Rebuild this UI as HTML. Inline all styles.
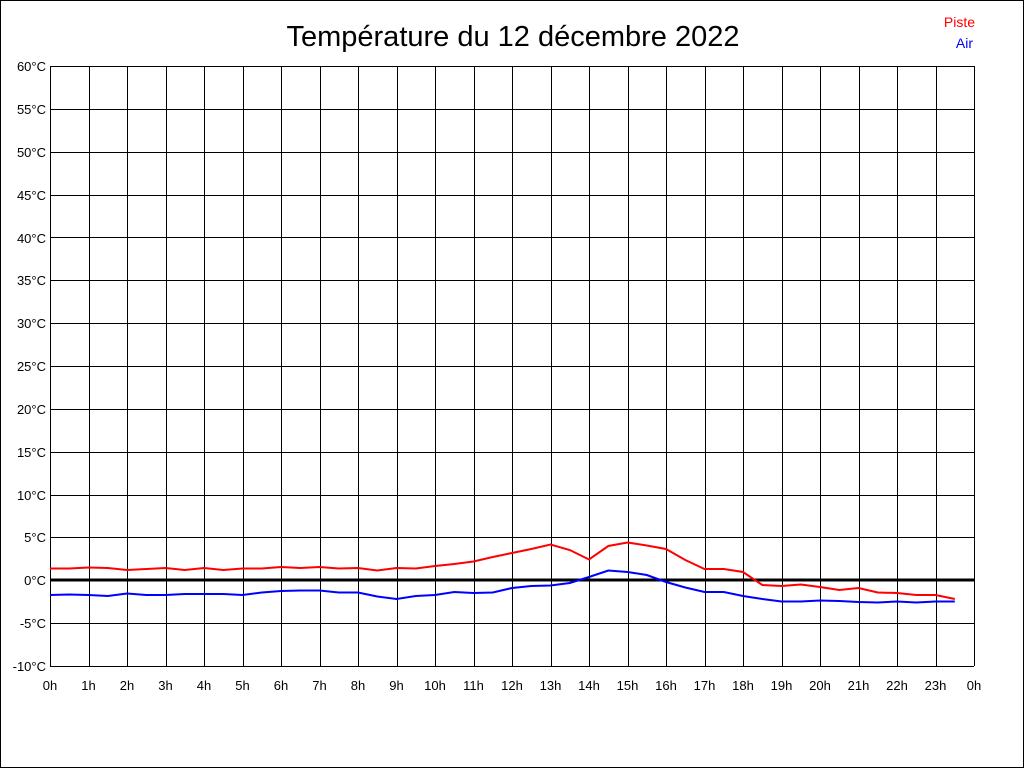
<!DOCTYPE html>
<html><head><meta charset="utf-8"><style>
html,body{margin:0;padding:0;background:#fff}
svg{display:block}
text{font-family:"Liberation Sans",Arial,sans-serif}
</style></head><body>
<svg id="s" width="1024" height="768" xmlns="http://www.w3.org/2000/svg">
<rect x="0.5" y="0.5" width="1023" height="767" fill="#fff" stroke="#000"/>
<text x="513" y="46" font-size="29" text-anchor="middle">Température du 12 décembre 2022</text>
<text x="975" y="27" font-size="14" fill="#f00" text-anchor="end">Piste</text>
<text x="973" y="48" font-size="14" fill="#00f" text-anchor="end">Air</text>
<g id="grid" stroke="#000" stroke-width="1"></g>
<g font-size="13" text-anchor="end">
<text x="46" y="71">60°C</text><text x="46" y="114">55°C</text><text x="46" y="157">50°C</text><text x="46" y="200">45°C</text><text x="46" y="243">40°C</text><text x="46" y="285">35°C</text><text x="46" y="328">30°C</text><text x="46" y="371">25°C</text><text x="46" y="414">20°C</text><text x="46" y="457">15°C</text><text x="46" y="500">10°C</text><text x="46" y="542">5°C</text><text x="46" y="585">0°C</text><text x="46" y="628">-5°C</text><text x="46" y="671">-10°C</text>
</g>
<g font-size="13" text-anchor="middle">
<text x="50" y="690">0h</text><text x="88.5" y="690">1h</text><text x="127" y="690">2h</text><text x="165.5" y="690">3h</text><text x="204" y="690">4h</text><text x="242.5" y="690">5h</text><text x="281" y="690">6h</text><text x="319.5" y="690">7h</text><text x="358" y="690">8h</text><text x="396.5" y="690">9h</text><text x="435" y="690">10h</text><text x="473.5" y="690">11h</text><text x="512" y="690">12h</text><text x="550.5" y="690">13h</text><text x="589" y="690">14h</text><text x="627.5" y="690">15h</text><text x="666" y="690">16h</text><text x="704.5" y="690">17h</text><text x="743" y="690">18h</text><text x="781.5" y="690">19h</text><text x="820" y="690">20h</text><text x="858.5" y="690">21h</text><text x="897" y="690">22h</text><text x="935.5" y="690">23h</text><text x="974" y="690">0h</text>
</g>
<line x1="50" y1="580" x2="974" y2="580" stroke="#000" stroke-width="3"/>
<polyline id="red" fill="none" stroke="#f00" stroke-width="2"/>
<polyline id="blue" fill="none" stroke="#00f" stroke-width="2"/>
</svg>
<script>
var g=document.getElementById('grid'),ns='http://www.w3.org/2000/svg',h='';
for(var i=0;i<=24;i++){var x=Math.round(50+38.5*i)+0.5;h+='<line x1="'+x+'" y1="66" x2="'+x+'" y2="666"/>';}
for(var j=0;j<=14;j++){var y=Math.round(66+600*j/14)+0.5;h+='<line x1="50" y1="'+y+'" x2="974" y2="'+y+'"/>';}
g.innerHTML=h;
var R=[568.5,568.5,567.5,568,570,569,568,570,568,570,568.5,568.5,567,568,567,568.5,568,570.5,568,568.5,566,564,561.5,557,553,549,544.5,550,559.5,546,542.5,545.5,549,560,569,569,572,585,586,584.5,587,590,588,592.5,593,595,595,599];
var B=[595,594.5,595,596,593.5,595,595,594,594,594,595,592.5,591,590.5,590.5,592.5,592.5,596.5,599,596,595,592,593,592.5,588,586,585.5,583,577,570.5,572,575,582,587.5,592,592,596,599,601.5,601.5,600.5,601,602,602.5,601.5,602.5,601.5,601.5];
function pts(a){return a.map(function(v,k){return (50+19.25*k).toFixed(1)+','+v}).join(' ');}
document.getElementById('red').setAttribute('points',pts(R));
document.getElementById('blue').setAttribute('points',pts(B));
</script>
</body></html>
